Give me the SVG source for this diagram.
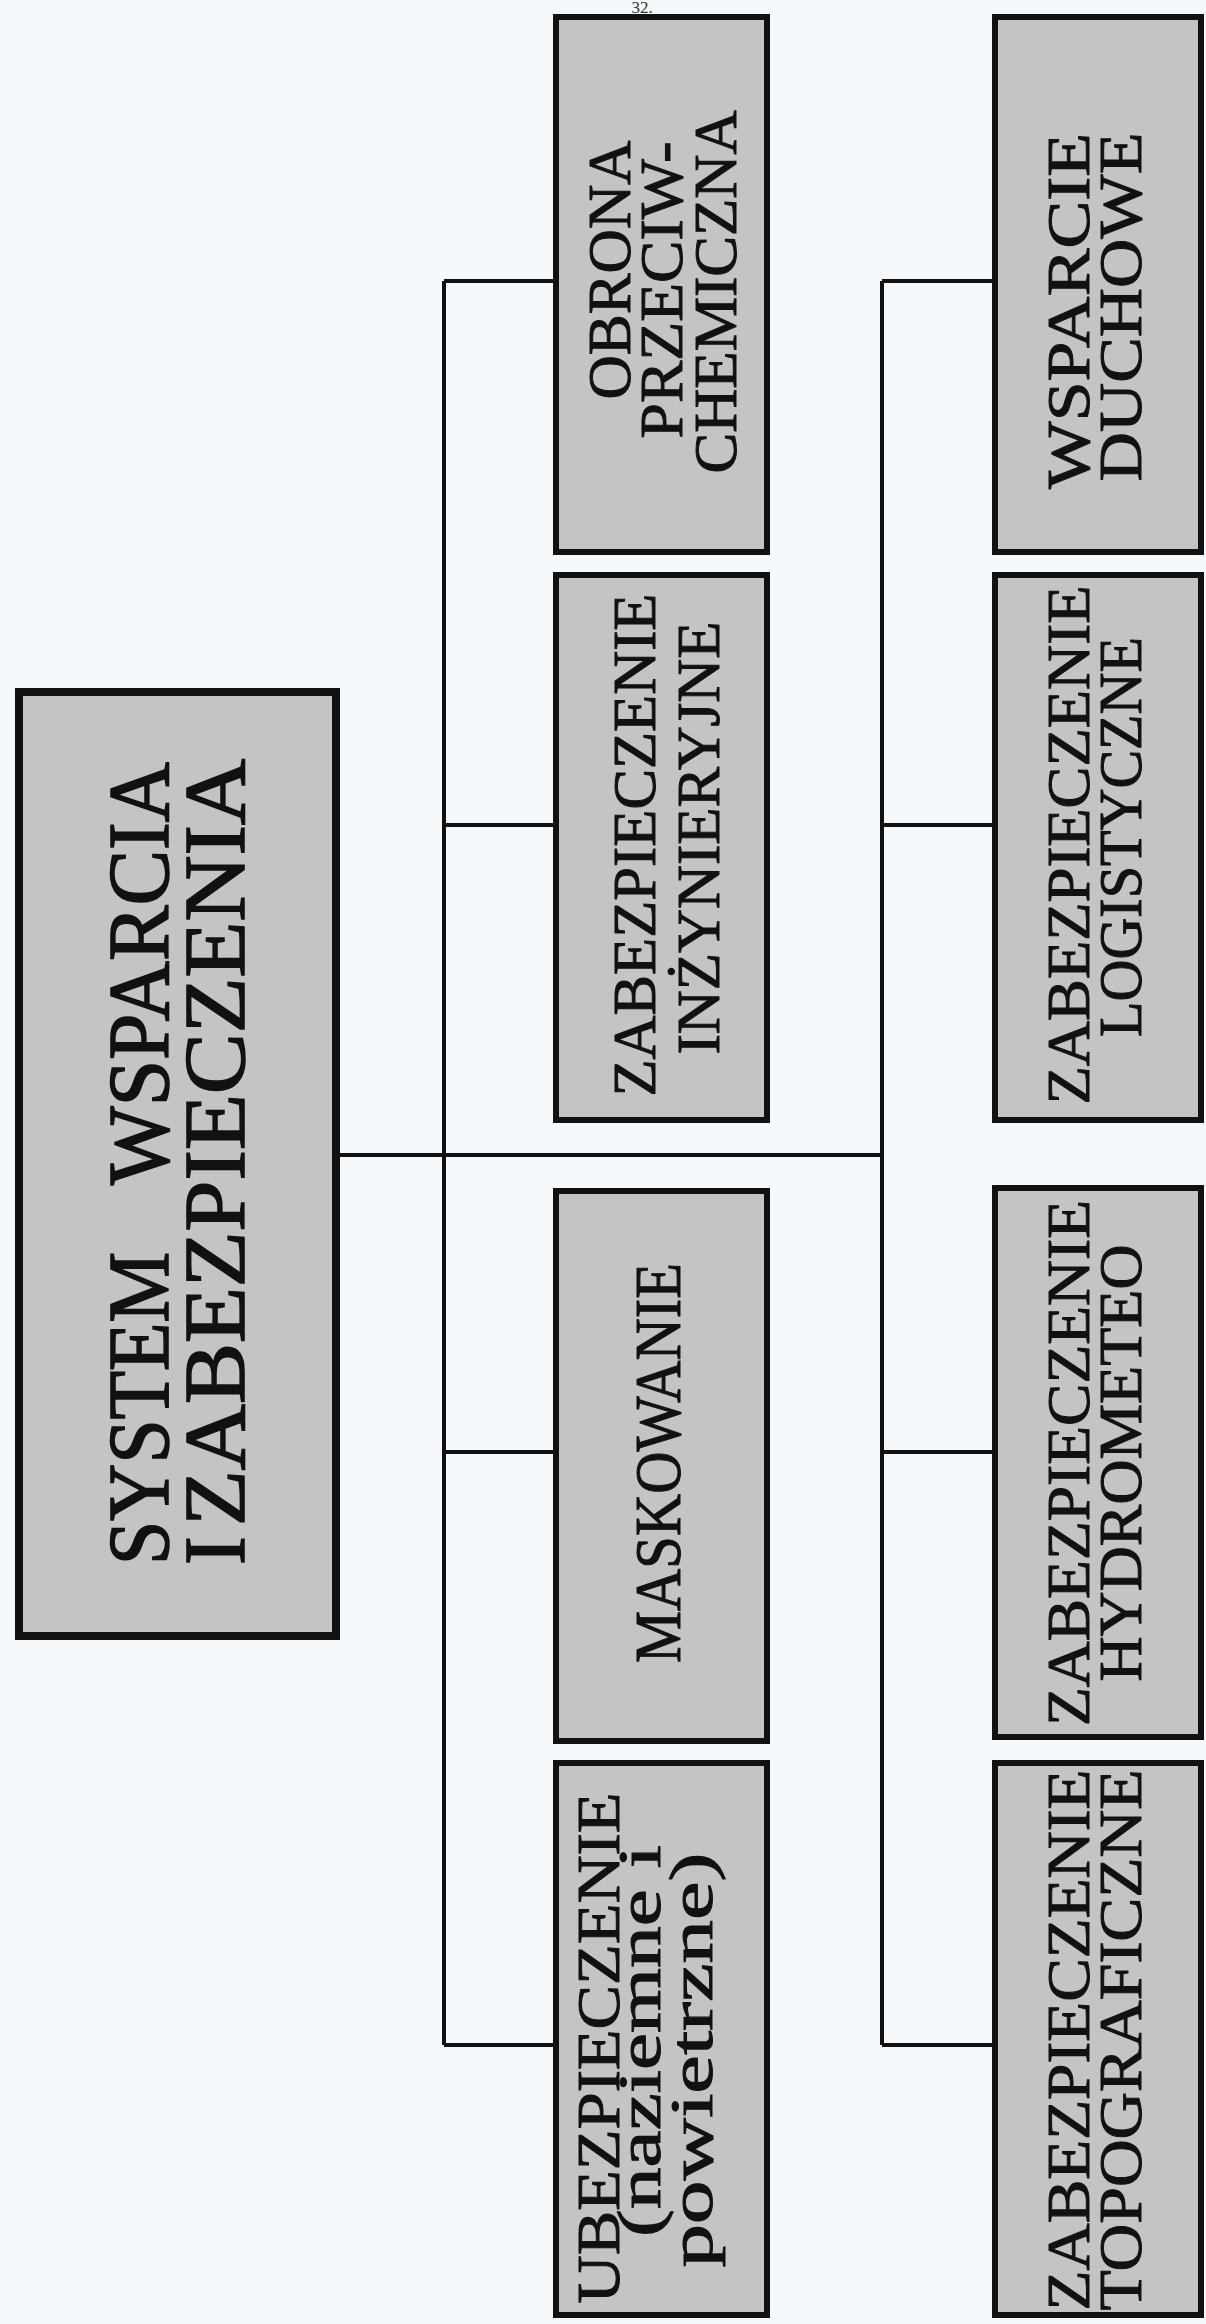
<svg xmlns="http://www.w3.org/2000/svg" width="1206" height="2324" viewBox="0 0 1206 2324">
<style>
.bg{fill:#f5f9fb}
.box{fill:#c4c4c4;stroke:#111;stroke-width:6}
.main{fill:#c4c4c4;stroke:#111;stroke-width:8}
.con{fill:none;stroke:#111;stroke-width:4}
.t{font-family:"Liberation Serif","Times New Roman",serif;font-size:62px;fill:#111;stroke:#111;stroke-width:1;text-anchor:middle}
.tt{font-family:"Liberation Serif","Times New Roman",serif;font-size:86px;fill:#111;stroke:#111;stroke-width:1.6}
</style>
<rect class="bg" x="0" y="0" width="1206" height="2324"/>
<text x="642" y="13" style="font-family:'Liberation Serif',serif;font-size:17px;fill:#333;text-anchor:middle">32.</text>
<g id="connectors">
<path class="con" d="M340 1155H882M444 281V2045M882 281V2045M444 281H553M444 825H553M444 1452H553M444 2045H553M882 281H992M882 825H992M882 1452H992M882 2045H992"/>
</g>
<g id="main">
<rect class="main" x="19" y="692" width="317" height="944"/>
<text class="tt" transform="translate(168,1164) rotate(-90)"><tspan x="-401" y="0" textLength="313" lengthAdjust="spacingAndGlyphs">SYSTEM</tspan> <tspan x="-21" y="0" textLength="423" lengthAdjust="spacingAndGlyphs">WSPARCIA</tspan></text>
<text class="tt" transform="translate(244,1164) rotate(-90)"><tspan x="-401" y="0">I</tspan> <tspan x="-362" y="0" textLength="767" lengthAdjust="spacingAndGlyphs">ZABEZPIECZENIA</tspan></text>
</g>
<g id="obrona">
<rect class="box" x="556" y="17" width="211" height="535"/>
<text class="t" transform="translate(630,270) rotate(-90)" textLength="259" lengthAdjust="spacingAndGlyphs">OBRONA</text>
<text class="t" transform="translate(682,290) rotate(-90)" textLength="297" lengthAdjust="spacingAndGlyphs">PRZECIW-</text>
<text class="t" transform="translate(736,292) rotate(-90)" textLength="363" lengthAdjust="spacingAndGlyphs">CHEMICZNA</text>
</g>
<g id="inzynieryjne">
<rect class="box" x="556" y="575" width="211" height="545"/>
<text class="t" transform="translate(655,845) rotate(-90)" textLength="503" lengthAdjust="spacingAndGlyphs">ZABEZPIECZENIE</text>
<text class="t" transform="translate(719,838) rotate(-90)" textLength="433" lengthAdjust="spacingAndGlyphs">INŻYNIERYJNE</text>
</g>
<g id="maskowanie">
<rect class="box" x="556" y="1191" width="211" height="550"/>
<text class="t" style="font-size:66px" transform="translate(680,1463) rotate(-90)" textLength="400" lengthAdjust="spacingAndGlyphs">MASKOWANIE</text>
</g>
<g id="ubezpieczenie">
<rect class="box" x="556" y="1763" width="211" height="552"/>
<text class="t" transform="translate(619,2048) rotate(-90)" textLength="511" lengthAdjust="spacingAndGlyphs">UBEZPIECZENIE</text>
<text class="t" transform="translate(660,2041) rotate(-90)" textLength="392" lengthAdjust="spacingAndGlyphs">(naziemne i</text>
<text class="t" transform="translate(712,2060) rotate(-90)" textLength="415" lengthAdjust="spacingAndGlyphs">powietrzne)</text>
</g>
<g id="duchowe">
<rect class="box" x="995" y="17" width="206" height="535"/>
<text class="t" transform="translate(1089,311) rotate(-90)" textLength="356" lengthAdjust="spacingAndGlyphs">WSPARCIE</text>
<text class="t" transform="translate(1141,307) rotate(-90)" textLength="349" lengthAdjust="spacingAndGlyphs">DUCHOWE</text>
</g>
<g id="logistyczne">
<rect class="box" x="995" y="575" width="206" height="545"/>
<text class="t" transform="translate(1089,845) rotate(-90)" textLength="519" lengthAdjust="spacingAndGlyphs">ZABEZPIECZENIE</text>
<text class="t" transform="translate(1141,837) rotate(-90)" textLength="400" lengthAdjust="spacingAndGlyphs">LOGISTYCZNE</text>
</g>
<g id="hydrometeo">
<rect class="box" x="995" y="1188" width="206" height="549"/>
<text class="t" transform="translate(1089,1463) rotate(-90)" textLength="526" lengthAdjust="spacingAndGlyphs">ZABEZPIECZENIE</text>
<text class="t" transform="translate(1141,1463) rotate(-90)" textLength="437" lengthAdjust="spacingAndGlyphs">HYDROMETEO</text>
</g>
<g id="topograficzne">
<rect class="box" x="995" y="1763" width="206" height="552"/>
<text class="t" transform="translate(1089,2040) rotate(-90)" textLength="541" lengthAdjust="spacingAndGlyphs">ZABEZPIECZENIE</text>
<text class="t" transform="translate(1141,2040) rotate(-90)" textLength="541" lengthAdjust="spacingAndGlyphs">TOPOGRAFICZNE</text>
</g>
</svg>
